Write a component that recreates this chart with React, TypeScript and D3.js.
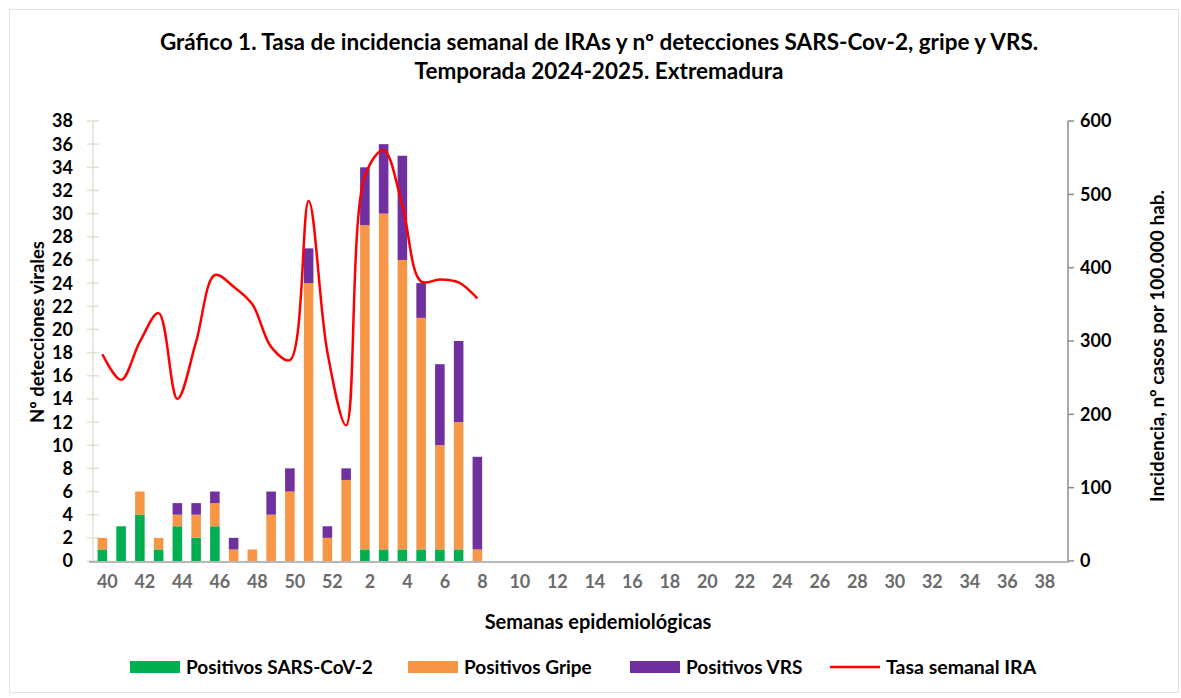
import React, { useEffect, useRef } from 'react';
import * as d3 from 'd3';

// semanas epidemiológicas 40-52 (2024) y 1-39 (2025)
const weeks = [
  '40', '41', '42', '43', '44', '45', '46', '47', '48', '49', '50', '51', '52',
  '1', '2', '3', '4', '5', '6', '7', '8', '9', '10', '11', '12', '13', '14', '15',
  '16', '17', '18', '19', '20', '21', '22', '23', '24', '25', '26', '27', '28', '29',
  '30', '31', '32', '33', '34', '35', '36', '37', '38', '39',
];

// values only up to week 8
const sarsCov2 = [1, 3, 4, 1, 3, 2, 3, 0, 0, 0, 0, 0, 0, 0, 1, 1, 1, 1, 1, 1, 0];
const gripe = [1, 0, 2, 1, 1, 2, 2, 1, 1, 4, 6, 24, 2, 7, 28, 29, 25, 20, 9, 11, 1];
const vrs = [0, 0, 0, 0, 1, 1, 1, 1, 0, 2, 2, 3, 1, 1, 5, 6, 9, 3, 7, 7, 8];
const tasaIRA = [282, 247, 299, 338, 221, 299, 390, 374, 350, 292, 274, 491, 285, 185, 525, 560, 485, 381, 384, 380, 358];

const leftTicks = d3.range(0, 39, 2);
const rightTicks = [0, 100, 200, 300, 400, 500, 600];

const seriesNames = ['Positivos SARS-CoV-2', 'Positivos Gripe', 'Positivos VRS'];
const colors = ['#00b050', '#f79646', '#7030a0'];
const lineColor = '#ff0000';

const FONT = 'Lato, "Liberation Sans", sans-serif';

const App = () => {
  const ref = useRef<SVGSVGElement>(null);

  useEffect(() => {
    const width = 1181;
    const height = 698;
    const margin = { top: 121, right: 113, bottom: 137, left: 93 };

    const svg = d3.select(ref.current).attr('width', width).attr('height', height);
    svg.selectAll('*').remove();

    // outer frame
    svg
      .append('rect')
      .attr('x', 9.5)
      .attr('y', 9.5)
      .attr('width', 1169)
      .attr('height', 683)
      .attr('fill', '#fff')
      .attr('stroke', '#e3e3e3');

    const x = d3
      .scaleBand()
      .domain(weeks)
      .range([margin.left, width - margin.right])
      .paddingInner(0.49)
      .paddingOuter(0.245);

    const yLeft = d3.scaleLinear().domain([0, 38]).range([height - margin.bottom, margin.top]);
    const yRight = d3.scaleLinear().domain([0, 600]).range([height - margin.bottom, margin.top]);

    // title
    const title = svg
      .append('text')
      .attr('text-anchor', 'middle')
      .style('font-family', FONT)
      .style('font-size', '22.5px')
      .style('font-weight', 'bold')
      .style('fill', '#000');
    title
      .append('tspan')
      .attr('x', 599)
      .attr('y', 50)
      .text('Gráfico 1. Tasa de incidencia semanal de IRAs y nº detecciones SARS-Cov-2, gripe y VRS.');
    title.append('tspan').attr('x', 599).attr('y', 79).text('Temporada 2024-2025. Extremadura');

    // left axis (light line with crossing ticks)
    const left = svg.append('g');
    left
      .append('line')
      .attr('x1', 93)
      .attr('x2', 93)
      .attr('y1', yLeft(38))
      .attr('y2', yLeft(0))
      .attr('stroke', '#e2dfd3')
      .attr('stroke-width', 1.5);
    left
      .selectAll('.lt')
      .data(leftTicks)
      .enter()
      .append('line')
      .attr('x1', 87)
      .attr('x2', 99)
      .attr('y1', (d) => yLeft(d))
      .attr('y2', (d) => yLeft(d))
      .attr('stroke', '#e2dfd3')
      .attr('stroke-width', 1.5);
    left
      .selectAll('.ll')
      .data(leftTicks)
      .enter()
      .append('text')
      .attr('x', 73)
      .attr('y', (d) => yLeft(d))
      .attr('dy', '0.36em')
      .attr('text-anchor', 'end')
      .style('font-family', FONT)
      .style('font-size', '18px')
      .style('font-weight', 'bold')
      .text((d) => d);

    // right axis
    const right = svg.append('g');
    right
      .append('line')
      .attr('x1', 1068)
      .attr('x2', 1068)
      .attr('y1', yRight(600))
      .attr('y2', yRight(0))
      .attr('stroke', '#8c8c8c')
      .attr('stroke-width', 1.5);
    right
      .selectAll('.rt')
      .data(rightTicks)
      .enter()
      .append('line')
      .attr('x1', 1068)
      .attr('x2', 1074)
      .attr('y1', (d) => yRight(d))
      .attr('y2', (d) => yRight(d))
      .attr('stroke', '#8c8c8c')
      .attr('stroke-width', 1.5);
    right
      .selectAll('.rl')
      .data(rightTicks)
      .enter()
      .append('text')
      .attr('x', 1080)
      .attr('y', (d) => yRight(d))
      .attr('dy', '0.36em')
      .attr('text-anchor', 'start')
      .style('font-family', FONT)
      .style('font-size', '18px')
      .style('font-weight', 'bold')
      .text((d) => d);

    // stacked bars
    const rows = sarsCov2.map((_, i) => ({ week: weeks[i], s: sarsCov2[i], g: gripe[i], v: vrs[i] }));
    const stack = d3.stack<any>().keys(['s', 'g', 'v'])(rows);
    svg
      .append('g')
      .selectAll('g')
      .data(stack)
      .enter()
      .append('g')
      .attr('fill', (_, i) => colors[i])
      .selectAll('rect')
      .data((d) => d.filter((p) => p[1] > p[0]))
      .enter()
      .append('rect')
      .attr('x', (d) => x(d.data.week)!)
      .attr('width', x.bandwidth())
      .attr('y', (d) => yLeft(d[1]))
      .attr('height', (d) => yLeft(d[0]) - yLeft(d[1]));

    // x axis line
    svg
      .append('line')
      .attr('x1', 89)
      .attr('x2', 1069)
      .attr('y1', 562)
      .attr('y2', 562)
      .attr('stroke', '#a0a0a0')
      .attr('stroke-width', 1.5);

    // x labels, every other week
    svg
      .selectAll('.xl')
      .data(weeks.filter((_, i) => i % 2 === 0))
      .enter()
      .append('text')
      .attr('x', (d) => x(d)! + x.bandwidth() / 2 + 5)
      .attr('y', 588)
      .attr('text-anchor', 'middle')
      .style('font-family', FONT)
      .style('font-size', '18px')
      .style('font-weight', 'bold')
      .style('fill', '#6b6b6b')
      .text((d) => d);

    // incidence line
    const line = d3
      .line<number>()
      .x((_, i) => x(weeks[i])! + x.bandwidth() / 2)
      .y((d) => yRight(d))
      .curve(d3.curveCatmullRom.alpha(0.5));
    svg
      .append('path')
      .datum(tasaIRA)
      .attr('d', line)
      .attr('fill', 'none')
      .attr('stroke', lineColor)
      .attr('stroke-width', 2.5);

    // axis titles
    svg
      .append('text')
      .attr('x', 598)
      .attr('y', 629)
      .attr('text-anchor', 'middle')
      .style('font-family', FONT)
      .style('font-size', '20px')
      .style('font-weight', 'bold')
      .text('Semanas epidemiológicas');
    svg
      .append('text')
      .attr('transform', 'translate(44, 332) rotate(-90)')
      .attr('text-anchor', 'middle')
      .style('font-family', FONT)
      .style('font-size', '18.5px')
      .style('font-weight', 'bold')
      .text('Nº detecciones virales');
    svg
      .append('text')
      .attr('transform', 'translate(1164, 346) rotate(-90)')
      .attr('text-anchor', 'middle')
      .style('font-family', FONT)
      .style('font-size', '19px')
      .style('font-weight', 'bold')
      .text('Incidencia, nº casos por 100.000 hab.');

    // legend
    const legendX = [130, 408, 630, 830];
    const legend = svg.append('g');
    seriesNames.forEach((name, i) => {
      legend
        .append('rect')
        .attr('x', legendX[i])
        .attr('y', 661)
        .attr('width', 50)
        .attr('height', 12)
        .attr('fill', colors[i]);
      legend
        .append('text')
        .attr('x', legendX[i] + 56)
        .attr('y', 674)
        .style('font-family', FONT)
        .style('font-size', '19px')
        .style('font-weight', 'bold')
        .text(name);
    });
    legend
      .append('line')
      .attr('x1', legendX[3])
      .attr('x2', legendX[3] + 50)
      .attr('y1', 667)
      .attr('y2', 667)
      .attr('stroke', lineColor)
      .attr('stroke-width', 2.5);
    legend
      .append('text')
      .attr('x', legendX[3] + 56)
      .attr('y', 674)
      .style('font-family', FONT)
      .style('font-size', '19.5px')
      .style('font-weight', 'bold')
      .text('Tasa semanal IRA');
  }, []);

  return <svg ref={ref} style={{ position: 'absolute', left: 0, top: 0 }}></svg>;
};

export default App;
